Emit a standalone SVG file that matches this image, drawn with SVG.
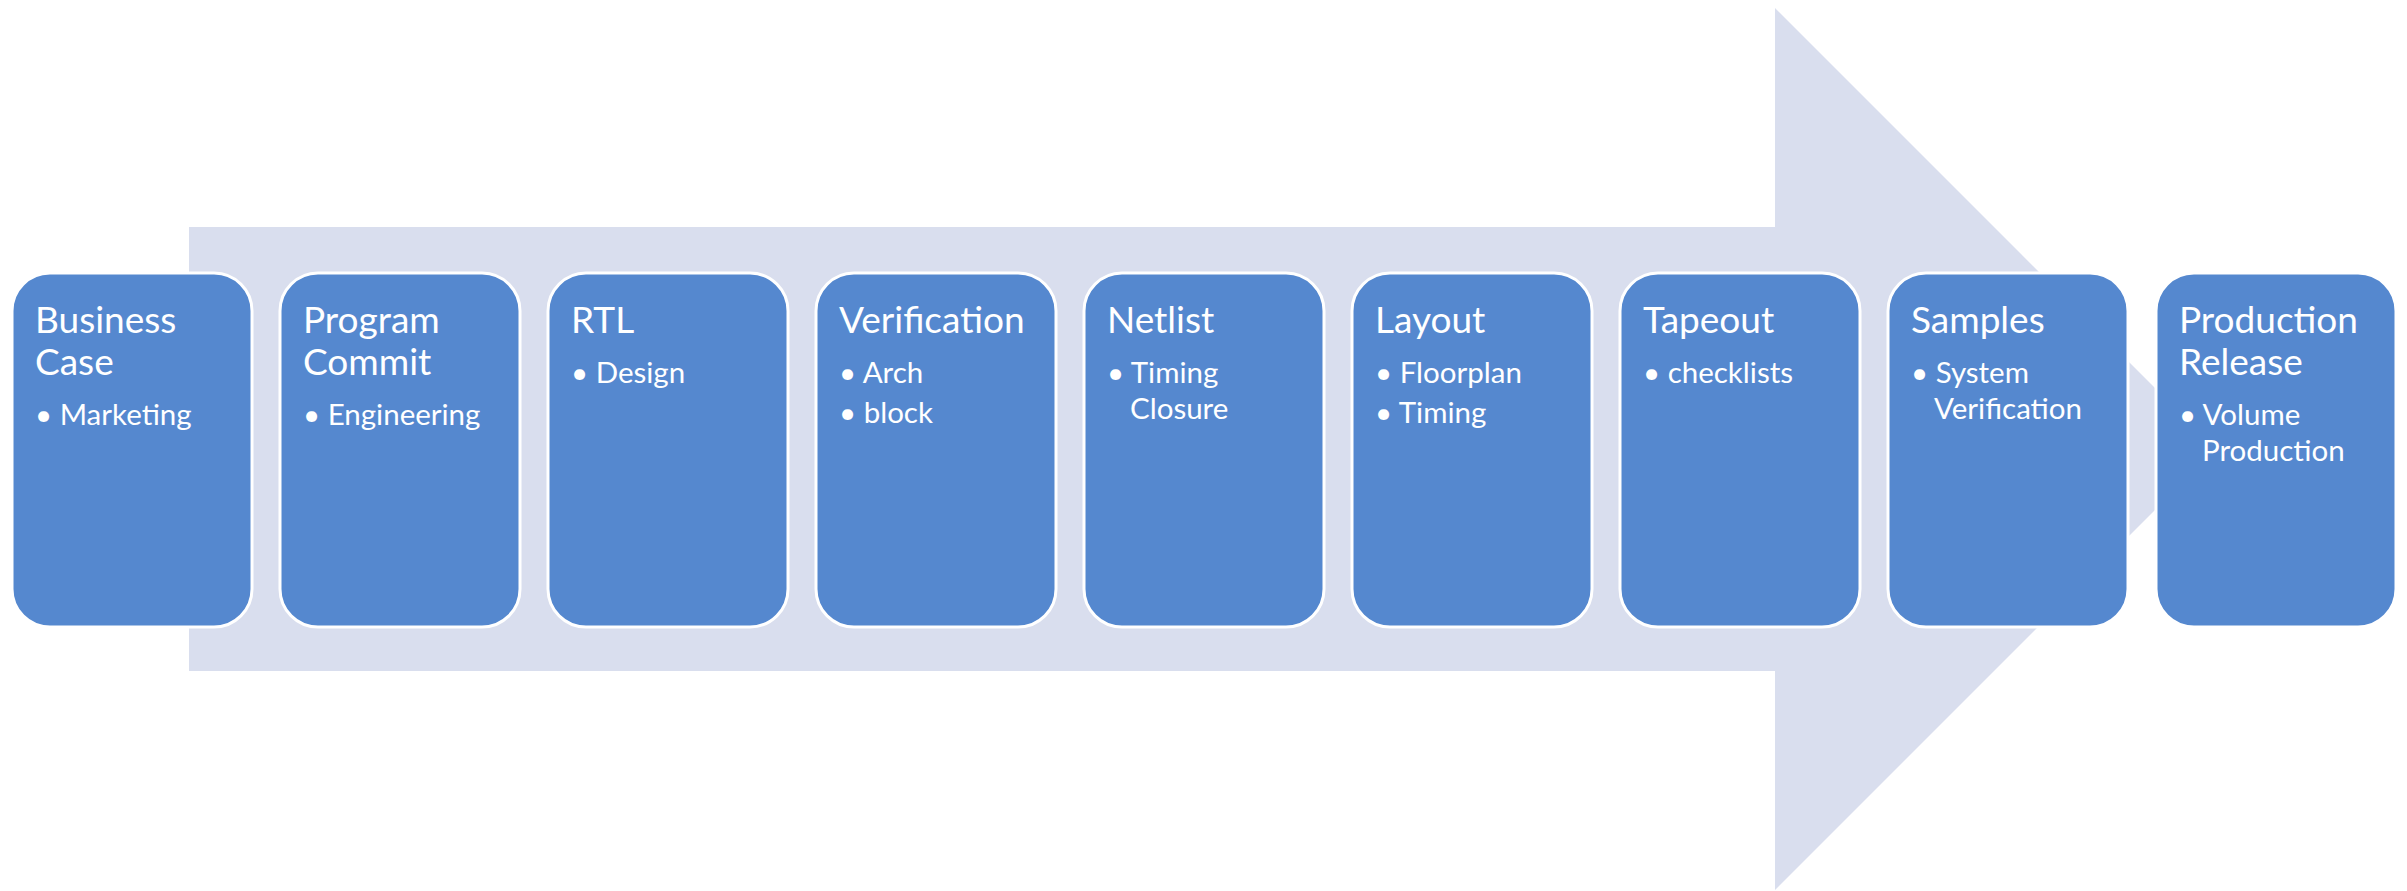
<svg xmlns="http://www.w3.org/2000/svg" width="2407" height="891" viewBox="0 0 2407 891">
  <style>
    .step { fill: #5588CF; stroke: #FFFFFF; stroke-width: 3; }
    .title { font-family: Lato, "Liberation Sans", sans-serif; font-size: 37px; fill: #FFFFFF; }
    .item { font-family: Lato, "Liberation Sans", sans-serif; font-size: 29.5px; fill: #FFFFFF; }
  </style>
  <rect width="2407" height="891" fill="#FFFFFF"/>
  <!-- Background flow arrow -->
  <g id="connectors">
    <polygon points="189,227 1775,227 1775,8 2216,449 1775,890 1775,671 189,671" fill="#D9DEEE"/>
  </g>
  <g id="step-business-case">
    <rect class="step" x="12" y="273" width="240" height="354" rx="38"/>
    <text class="title" x="35" y="333">Business</text>
    <text class="title" x="35" y="375">Case</text>
    <text class="item" x="35" y="425">• Marketing</text>
  </g>
  <g id="step-program-commit">
    <rect class="step" x="280" y="273" width="240" height="354" rx="38"/>
    <text class="title" x="303" y="333">Program</text>
    <text class="title" x="303" y="375">Commit</text>
    <text class="item" x="303" y="425">• Engineering</text>
  </g>
  <g id="step-rtl">
    <rect class="step" x="548" y="273" width="240" height="354" rx="38"/>
    <text class="title" x="571" y="333">RTL</text>
    <text class="item" x="571" y="383">• Design</text>
  </g>
  <g id="step-verification">
    <rect class="step" x="816" y="273" width="240" height="354" rx="38"/>
    <text class="title" x="839" y="333">Verification</text>
    <text class="item" x="839" y="383">• Arch</text>
    <text class="item" x="839" y="423">• block</text>
  </g>
  <g id="step-netlist">
    <rect class="step" x="1084" y="273" width="240" height="354" rx="38"/>
    <text class="title" x="1107" y="333">Netlist</text>
    <text class="item" x="1107" y="383">• Timing</text>
    <text class="item" x="1130" y="419">Closure</text>
  </g>
  <g id="step-layout">
    <rect class="step" x="1352" y="273" width="240" height="354" rx="38"/>
    <text class="title" x="1375" y="333">Layout</text>
    <text class="item" x="1375" y="383">• Floorplan</text>
    <text class="item" x="1375" y="423">• Timing</text>
  </g>
  <g id="step-tapeout">
    <rect class="step" x="1620" y="273" width="240" height="354" rx="38"/>
    <text class="title" x="1643" y="333">Tapeout</text>
    <text class="item" x="1643" y="383">• checklists</text>
  </g>
  <g id="step-samples">
    <rect class="step" x="1888" y="273" width="240" height="354" rx="38"/>
    <text class="title" x="1911" y="333">Samples</text>
    <text class="item" x="1911" y="383">• System</text>
    <text class="item" x="1934" y="419">Verification</text>
  </g>
  <g id="step-production-release">
    <rect class="step" x="2156" y="273" width="240" height="354" rx="38"/>
    <text class="title" x="2179" y="333">Production</text>
    <text class="title" x="2179" y="375">Release</text>
    <text class="item" x="2179" y="425">• Volume</text>
    <text class="item" x="2202" y="461">Production</text>
  </g>
</svg>
